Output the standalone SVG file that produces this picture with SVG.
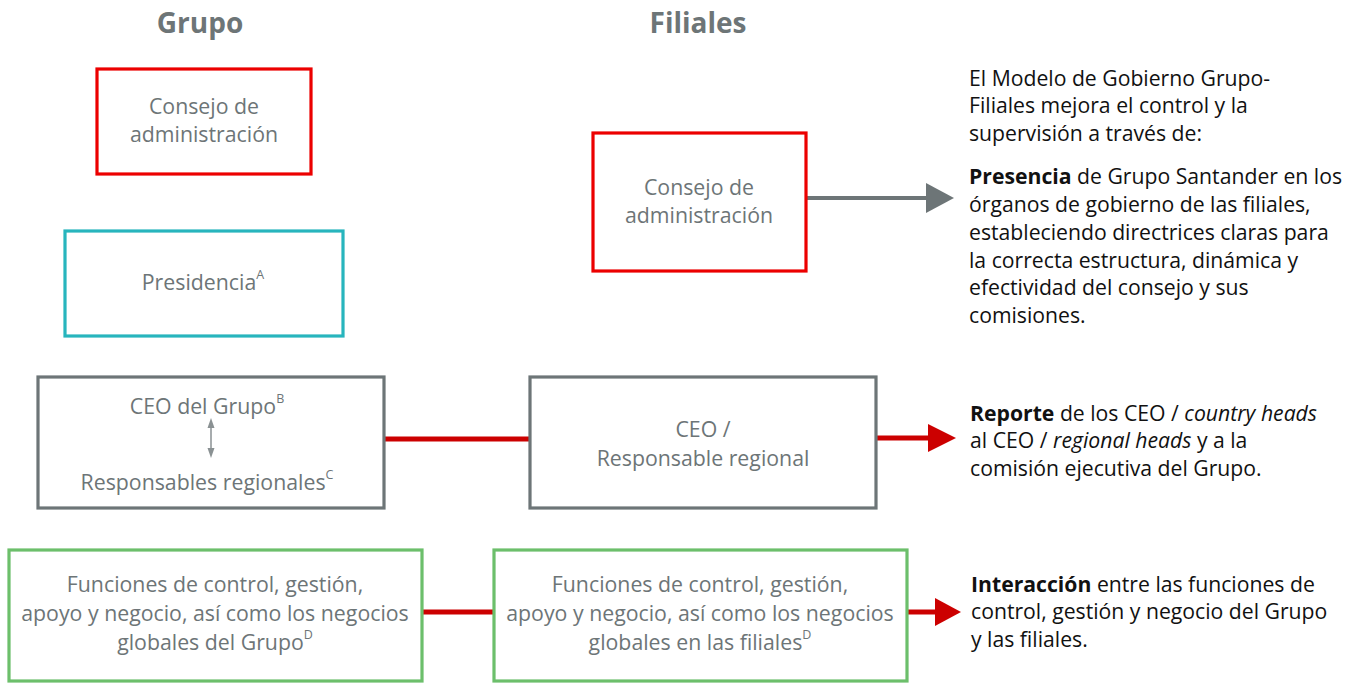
<svg xmlns="http://www.w3.org/2000/svg" width="1359" height="684" viewBox="0 0 1359 684">
<style>
  .bx{fill:#fff;stroke-width:3.2}
  .red{stroke:#ec0000}
  .teal{stroke:#27b5bd}
  .gray{stroke:#6d7577}
  .green{stroke:#6cbf6b}
  .t{font-family:"Open Sans","Noto Sans",sans-serif;font-size:21.3px;fill:#6d7577;text-anchor:middle}
  .sup{font-size:12.5px}
  .h{font-family:"Open Sans","Noto Sans",sans-serif;font-size:28px;font-weight:bold;fill:#6d7577;text-anchor:middle}
  .r{font-family:"Open Sans","Noto Sans",sans-serif;font-size:21.2px;fill:#111}
  .b{font-weight:bold}
  .i{font-style:italic}
  .cr{stroke:#cc0000;stroke-width:5;fill:none}
  .cg{stroke:#6d7577;stroke-width:4;fill:none}
</style>
<rect width="1359" height="684" fill="#fff"/>
<text class="h" x="200" y="33">Grupo</text>
<text class="h" x="698" y="33">Filiales</text>

<g id="connectors">
  <line class="cg" x1="807" y1="198" x2="927" y2="198"/>
  <polygon points="926,183 954,198 926,213" fill="#6d7577"/>
  <line class="cr" x1="384" y1="439" x2="529" y2="439"/>
  <line class="cr" x1="876" y1="438" x2="930" y2="438"/>
  <polygon points="928,424 956,438 928,452" fill="#cc0000"/>
  <line class="cr" x1="422" y1="612" x2="494" y2="612"/>
  <line class="cr" x1="907" y1="612" x2="937" y2="612"/>
  <polygon points="935,598 961,612 935,626" fill="#cc0000"/>
</g>

<g id="grupo-consejo">
  <rect class="bx red" x="97" y="69" width="214" height="105"/>
  <text class="t" x="204" y="114">Consejo de</text>
  <text class="t" x="204" y="142">administración</text>
</g>
<g id="grupo-presidencia">
  <rect class="bx teal" x="65" y="231" width="278" height="105"/>
  <text class="t" x="203" y="290">Presidencia<tspan class="sup" dy="-11">A</tspan></text>
</g>
<g id="grupo-ceo">
  <rect class="bx gray" x="38" y="377" width="346" height="131"/>
  <text class="t" x="207" y="414">CEO del Grupo<tspan class="sup" dy="-11">B</tspan></text>
  <line x1="211" y1="424" x2="211" y2="452" stroke="#8a9193" stroke-width="1.5"/>
  <polygon points="207.5,428 211,418 214.5,428" fill="#8a9193"/>
  <polygon points="207.5,448 211,458 214.5,448" fill="#8a9193"/>
  <text class="t" x="207" y="490">Responsables regionales<tspan class="sup" dy="-11">C</tspan></text>
</g>
<g id="grupo-funciones">
  <rect class="bx green" x="9" y="550" width="413" height="131"/>
  <text class="t" x="215" y="592">Funciones de control, gestión,</text>
  <text class="t" x="215" y="621">apoyo y negocio, así como los negocios</text>
  <text class="t" x="215" y="650">globales del Grupo<tspan class="sup" dy="-11">D</tspan></text>
</g>
<g id="filiales-consejo">
  <rect class="bx red" x="593" y="133" width="213" height="138"/>
  <text class="t" x="699" y="195">Consejo de</text>
  <text class="t" x="699" y="223">administración</text>
</g>
<g id="filiales-ceo">
  <rect class="bx gray" x="530" y="377" width="346" height="131"/>
  <text class="t" x="703" y="437">CEO /</text>
  <text class="t" x="703" y="466">Responsable regional</text>
</g>
<g id="filiales-funciones">
  <rect class="bx green" x="494" y="550" width="413" height="131"/>
  <text class="t" x="700" y="592">Funciones de control, gestión,</text>
  <text class="t" x="700" y="621">apoyo y negocio, así como los negocios</text>
  <text class="t" x="700" y="650">globales en las filiales<tspan class="sup" dy="-11">D</tspan></text>
</g>

<g id="text-presencia">
  <text class="r" x="969" y="86">El Modelo de Gobierno Grupo-</text>
  <text class="r" x="969" y="113">Filiales mejora el control y la</text>
  <text class="r" x="969" y="141">supervisión a través de:</text>
  <text class="r" x="969" y="184"><tspan class="b">Presencia</tspan> de Grupo Santander en los</text>
  <text class="r" x="969" y="212">órganos de gobierno de las filiales,</text>
  <text class="r" x="969" y="240">estableciendo directrices claras para</text>
  <text class="r" x="969" y="268">la correcta estructura, dinámica y</text>
  <text class="r" x="969" y="295">efectividad del consejo y sus</text>
  <text class="r" x="969" y="323">comisiones.</text>
</g>
<g id="text-reporte">
  <text class="r" x="970" y="421"><tspan class="b">Reporte</tspan> de los CEO / <tspan class="i">country heads</tspan></text>
  <text class="r" x="970" y="448">al CEO / <tspan class="i">regional heads</tspan> y a la</text>
  <text class="r" x="970" y="476">comisión ejecutiva del Grupo.</text>
</g>
<g id="text-interaccion">
  <text class="r" x="971" y="592"><tspan class="b">Interacción</tspan> entre las funciones de</text>
  <text class="r" x="971" y="619">control, gestión y negocio del Grupo</text>
  <text class="r" x="971" y="647">y las filiales.</text>
</g>
</svg>
